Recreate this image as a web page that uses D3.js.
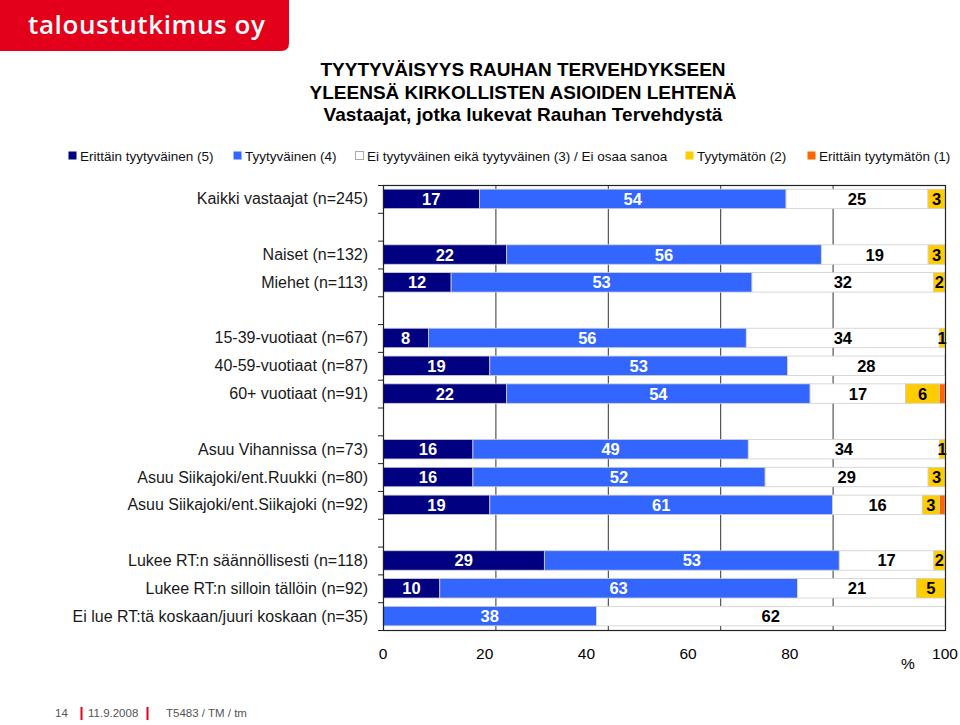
<!DOCTYPE html>
<html><head><meta charset="utf-8">
<script src="https://cdn.jsdelivr.net/npm/d3@7"></script>
<style>body{margin:0;background:#fff}svg{display:block}</style>
</head><body><svg id="c" width="960" height="725"></svg>
<script>
// ---------- data ----------
const logoText = "taloustutkimus oy";
const titleLines = [
  "TYYTYVÄISYYS RAUHAN TERVEHDYKSEEN",
  "YLEENSÄ KIRKOLLISTEN ASIOIDEN LEHTENÄ",
  "Vastaajat, jotka lukevat Rauhan Tervehdystä"
];
const legendLabels = [
  "Erittäin tyytyväinen (5)",
  "Tyytyväinen (4)",
  "Ei tyytyväinen eikä tyytyväinen (3) / Ei osaa sanoa",
  "Tyytymätön (2)",
  "Erittäin tyytymätön (1)"
];
const categories = [
  "Kaikki vastaajat (n=245)",
  "Naiset (n=132)", "Miehet (n=113)",
  "15-39-vuotiaat (n=67)", "40-59-vuotiaat (n=87)", "60+ vuotiaat (n=91)",
  "Asuu Vihannissa (n=73)", "Asuu Siikajoki/ent.Ruukki (n=80)", "Asuu Siikajoki/ent.Siikajoki (n=92)",
  "Lukee RT:n säännöllisesti (n=118)", "Lukee RT:n silloin tällöin (n=92)", "Ei lue RT:tä koskaan/juuri koskaan (n=35)"
];
const groupSizes = [1, 2, 3, 3, 3];
const s5 = [17, 22, 12, 8, 19, 22, 16, 16, 19, 29, 10, 0];
const s4 = [54, 56, 53, 56, 53, 54, 49, 52, 61, 53, 63, 38];
const s3 = [25, 19, 32, 34, 28, 17, 34, 29, 16, 17, 21, 62];
const s2 = [3, 3, 2, 1, 0, 6, 1, 3, 3, 2, 5, 0];
const s1 = [0, 0, 0, 0, 0, 1, 0, 0, 1, 0, 0, 0];
const tickValues = [0, 20, 40, 60, 80, 100];
const axisUnit = "%";
const footer = ["14", "11.9.2008", "T5483 / TM / tm"];

// ---------- style / layout ----------
const keys = ["s5", "s4", "s3", "s2", "s1"];
const colors = ["#000080", "#3366ff", "#ffffff", "#ffcc00", "#ff6600"];
const labelColors = ["#ffffff", "#ffffff", "#000000", "#000000", null];
const legendX = [68, 233, 355, 685, 807];
const FONT = "'Liberation Sans', Arial, sans-serif";
const red = "#e2001a";

const svg = d3.select("#c");

// logo
svg.append("path").attr("d", "M0,0H289V43Q289,51 281,51H0Z").attr("fill", red);
svg.append("text").attr("x", 28).attr("y", 34).text(logoText)
  .attr("fill", "#fff").style("font-family", "'Open Sans', sans-serif")
  .style("font-weight", 600).style("font-size", "26px").style("letter-spacing", "0.6px");

// title
svg.selectAll("text.title").data(titleLines).join("text").attr("class", "title")
  .attr("x", 523).attr("y", (d, i) => 76 + i * 22.5)
  .attr("text-anchor", "middle").text(d => d)
  .style("font-family", FONT).style("font-weight", "bold").style("font-size", "19px").attr("fill", "#000");

// legend
const lg = svg.append("g").selectAll("g").data(legendLabels).join("g")
  .attr("transform", (d, i) => `translate(${legendX[i]},156)`);
lg.append("rect").attr("x", 0.5).attr("y", -4.5).attr("width", 8).attr("height", 8)
  .attr("fill", (d, i) => colors[i]).attr("stroke", (d, i) => i === 2 ? "#aaa" : "none");
lg.append("text").attr("x", 12).attr("y", 5).text(d => d)
  .style("font-family", FONT).style("font-size", "13.5px").attr("fill", "#111");

// scales
const x0 = 383, x1 = 945, yTop = 185, yBot = 630;
const slotKeys = [];
let ci = 0;
groupSizes.forEach((n, g) => {
  if (g > 0) slotKeys.push("gap" + g);
  for (let k = 0; k < n; k++) slotKeys.push(categories[ci++]);
});
const y = d3.scaleBand().domain(slotKeys).range([yTop, yBot]).paddingInner(0.3).paddingOuter(0.15);
const x = d3.scaleLinear().domain([0, 1]).range([x0, x1]);
const xLab = d3.scaleLinear().domain([0, 100]).range([x0, 891.5]);

// data table
const table = categories.map((c, i) => ({ cat: c, s5: s5[i], s4: s4[i], s3: s3[i], s2: s2[i], s1: s1[i] }));
const stacked = d3.stack().keys(keys).offset(d3.stackOffsetExpand)(table);

// gridlines
const plot = svg.append("g");
plot.selectAll("line.grid").data(tickValues.filter(t => t > 0 && t < 100)).join("line")
  .attr("x1", d => x(d / 100) + 0.5).attr("x2", d => x(d / 100) + 0.5)
  .attr("y1", yTop).attr("y2", yBot).attr("stroke", "#333").attr("stroke-width", 1);

// bars
const layers = plot.selectAll("g.layer").data(stacked).join("g").attr("class", "layer")
  .attr("fill", (d, i) => colors[i]);
layers.selectAll("rect").data(d => d).join("rect")
  .attr("x", d => x(d[0])).attr("width", d => Math.max(0, x(d[1]) - x(d[0])))
  .attr("y", d => y(d.data.cat)).attr("height", y.bandwidth())
  .attr("stroke", "#cfcfcf").attr("stroke-width", 0.8)
  .attr("display", d => (d[1] - d[0]) > 0 ? null : "none");

// value labels
stacked.forEach((layer, li) => {
  if (!labelColors[li]) return;
  plot.append("g").selectAll("text").data(layer.filter(d => d.data[layer.key] > 0)).join("text")
    .attr("x", d => x((d[0] + d[1]) / 2)).attr("y", d => y(d.data.cat) + y.bandwidth() / 2 + 6)
    .attr("text-anchor", "middle").text(d => d.data[layer.key])
    .attr("fill", labelColors[li]).style("font-family", FONT).style("font-weight", "bold").style("font-size", "16.5px");
});

// frame
svg.append("rect").attr("x", x0 + 0.5).attr("y", yTop + 0.5).attr("width", x1 - x0).attr("height", yBot - yTop)
  .attr("fill", "none").attr("stroke", "#222").attr("stroke-width", 1.2);

// left ticks at slot boundaries
svg.append("g").selectAll("line").data(d3.range(slotKeys.length + 1)).join("line")
  .attr("x1", x0 - 5).attr("x2", x0)
  .attr("y1", i => yTop + i * y.step() + 0.5).attr("y2", i => yTop + i * y.step() + 0.5)
  .attr("stroke", "#222");

// category labels
svg.append("g").selectAll("text").data(categories).join("text")
  .attr("x", 368).attr("y", d => y(d) + y.bandwidth() / 2 + 5.5)
  .attr("text-anchor", "end").text(d => d)
  .style("font-family", FONT).style("font-size", "16px").attr("fill", "#1a1a1a");

// x tick labels
svg.append("g").selectAll("text").data(tickValues).join("text")
  .attr("x", d => d === 100 ? x(1) : xLab(d)).attr("y", 659)
  .attr("text-anchor", "middle").text(d => d)
  .style("font-family", FONT).style("font-size", "15.5px").attr("fill", "#000");
svg.append("text").attr("x", 908).attr("y", 669).attr("text-anchor", "middle").text(axisUnit)
  .style("font-family", FONT).style("font-size", "15.5px").attr("fill", "#000");

// footer
const ff = svg.append("g").style("font-family", FONT).style("font-size", "11.5px").attr("fill", "#555");
ff.append("text").attr("x", 55).attr("y", 717).text(footer[0]);
ff.append("text").attr("x", 88).attr("y", 717).text(footer[1]);
ff.append("text").attr("x", 166).attr("y", 717).text(footer[2]);
[81.5, 147.5].forEach(px => svg.append("line").attr("x1", px).attr("x2", px).attr("y1", 707).attr("y2", 720)
  .attr("stroke", red).attr("stroke-width", 2));
</script></body></html>
